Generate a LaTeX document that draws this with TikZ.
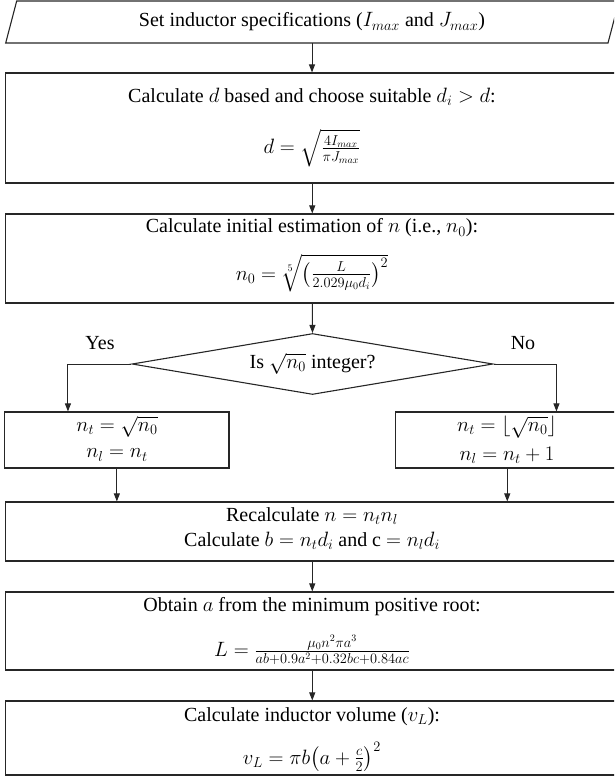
\documentclass[tikz,border=0pt]{standalone}
\usepackage{amsmath}
\usepackage{fontspec}
\setmainfont{Liberation Serif}
\usetikzlibrary{arrows.meta,shapes.geometric}
\begin{document}
\begin{tikzpicture}[x=1pt,y=-1pt,
  box/.style={draw=black!85, line width=1.1pt, rectangle, inner sep=0pt},
  txt/.style={inner sep=0pt, font=\fontsize{20}{24}\selectfont},
  arr/.style={draw=black!85, line width=1pt, -{Triangle[length=8pt,width=6pt]}},
  ]
\useasboundingbox (0,0) rectangle (614,778);
\clip (0,0) rectangle (614,778);

% input parallelogram
\draw[draw=black!85, line width=1.1pt] (5.7,43) -- (16.7,1) -- (619,1) -- (608,43) -- cycle;
\node[txt] (spec) at (312,22) {Set inductor specifications ($I_{max}$ and $J_{max}$)};
\coordinate (specb) at (312,43);

% box 2
\node[box, minimum width=613.5pt, minimum height=110pt] (b2) at (312.25,128) {};
\node[txt] (b2a) at (312,97) {Calculate $d$ based and choose suitable $d_i > d$:};
\node[txt] (b2b) at (312,148) {$d = \sqrt{\tfrac{4I_{max}}{\pi J_{max}}}$};

% box 3
\node[box, minimum width=613.5pt, minimum height=89pt] (b3) at (312.25,258.5) {};
\node[txt] (b3a) at (312,228) {Calculate initial estimation of $n$ (i.e., $n_0$):};
\node[txt] (b3b) at (312,273) {$n_0 = \sqrt[5]{\bigl(\tfrac{L}{2.029\mu_0 d_i}\bigr)^{2}}$};

% decision
\node[diamond, draw=black!85, line width=1.1pt, inner sep=0pt, shape aspect=6,
      minimum width=361pt, minimum height=61pt, font=\fontsize{20}{24}\selectfont]
      (dia) at (312.5,364) {Is $\sqrt{n_0}$ integer?};
\node[txt] (yes) at (100,343) {Yes};
\node[txt] (no) at (523,343) {No};

% branch boxes
\node[box, minimum width=224.3pt, minimum height=56pt] (lbox) at (116.85,440) {};
\node[txt] (la) at (117,427) {$n_t = \sqrt{n_0}$};
\node[txt] (lb) at (117,455) {$n_l = n_t$};

\node[box, minimum width=223.5pt, minimum height=56pt] (rbox) at (507.25,440) {};
\node[txt] (ra) at (507,427) {$n_t = \lfloor\sqrt{n_0}\rfloor$};
\node[txt] (rb) at (507,455) {$n_l = n_t + 1$};

% recalc
\node[box, minimum width=613.5pt, minimum height=59pt] (rc) at (312.25,531.5) {};
\node[txt] (rca) at (312,516) {Recalculate $n = n_t n_l$};
\node[txt] (rcb) at (312,541) {Calculate $b = n_t d_i$ and c $= n_l d_i$};

% obtain a
\node[box, minimum width=613.5pt, minimum height=78pt] (ob) at (312.25,631) {};
\node[txt] (oba) at (312,607) {Obtain $a$ from the minimum positive root:};
\node[txt] (obb) at (312,650) {$L = \tfrac{\mu_0 n^2 \pi a^3}{ab+0.9a^2+0.32bc+0.84ac}$};

% final
\node[box, minimum width=613.5pt, minimum height=74pt] (fin) at (312.25,738) {};
\node[txt] (fina) at (312,717) {Calculate inductor volume ($v_L$):};
\node[txt] (finb) at (312,757) {$v_L = \pi b\bigl(a + \tfrac{c}{2}\bigr)^2$};

% connectors
\draw[arr] (specb) -- (specb |- b2.north);
\draw[arr] (b2.south) -- (b3.north);
\draw[arr] (b3.south) -- (dia.north);
\draw[arr] (dia.west) -| ([xshift=63.8pt]lbox.north west);
\draw[arr] (dia.east) -| ([xshift=161.5pt]rbox.north west);
\draw[arr] (lbox.south) -- (lbox.south |- rc.north);
\draw[arr] (rbox.south) -- (rbox.south |- rc.north);
\draw[arr] (rc.south) -- (ob.north);
\draw[arr] (ob.south) -- (fin.north);
\end{tikzpicture}
\end{document}
